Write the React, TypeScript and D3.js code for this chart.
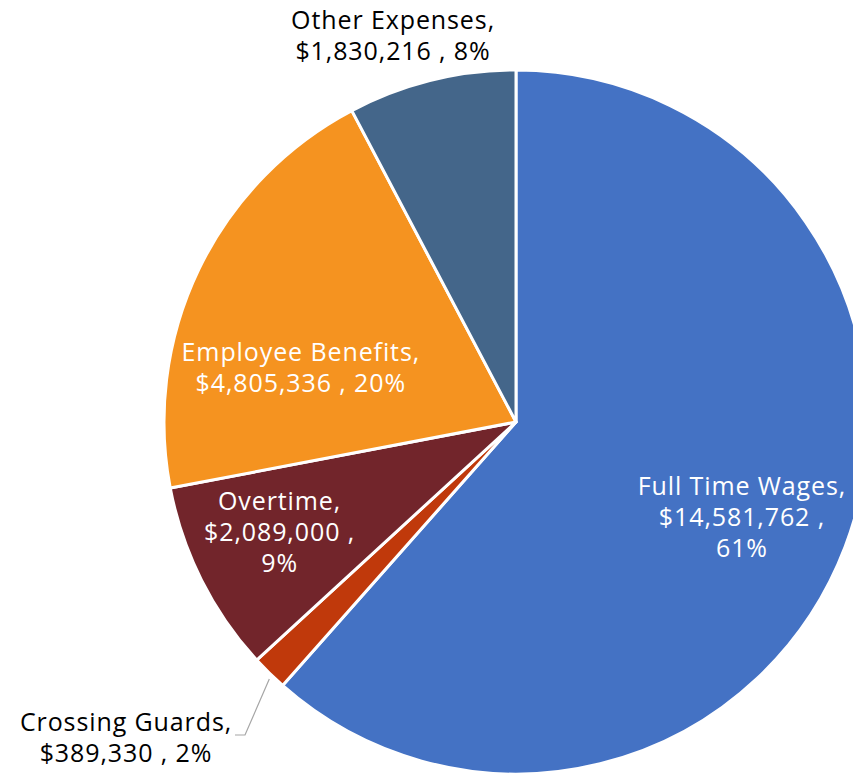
import React from "react";
import * as d3 from "d3";

const categories = ["Full Time Wages", "Crossing Guards", "Overtime", "Employee Benefits", "Other Expenses"];
const values = [14581762, 389330, 2089000, 4805336, 1830216];
const percentLabels = ["61%", "2%", "9%", "20%", "8%"];
const colors = ["#4472C4", "#C0390B", "#72252B", "#F59320", "#44668A"];

// label layout: lines split & offsets from centroid (layout only)
const labelLines = [
  (c: string, v: string, p: string) => [c + ",", v + " ,", p],
  (c: string, v: string, p: string) => [c + ",", v + " , " + p],
  (c: string, v: string, p: string) => [c + ",", v + " ,", p],
  (c: string, v: string, p: string) => [c + ",", v + " , " + p],
  (c: string, v: string, p: string) => [c + ",", v + " , " + p],
];
const labelOffsets: [number, number][] = [
  [12, 13],
  [0, 0],
  [-32, 6],
  [-9, 44],
  [-68, -165],
];
const labelColors = ["#fff", "#000", "#fff", "#fff", "#000"];

const W = 853;
const H = 774;
const cx = 516;
const cy = 422;
const R = 352;

export default function App() {
  const fmt = d3.format("$,");
  const pie = d3.pie<number>().sort(null).value((d) => d);
  const arcs = pie(values);
  const arc = d3.arc<d3.PieArcDatum<number>>().innerRadius(0).outerRadius(R);
  const lab = d3.arc<d3.PieArcDatum<number>>().innerRadius(R * 0.65).outerRadius(R * 0.65);
  const lineH = 31;
  const font = "'Open Sans', sans-serif";
  const fs = 25;
  const ls = 0.9;

  // Crossing Guards leader
  const cg = arcs[1];
  const cgMid = (cg.startAngle + cg.endAngle) / 2;
  const edge = [Math.sin(cgMid) * R, -Math.cos(cgMid) * R];

  return (
    <svg width={W} height={H} style={{ position: "absolute", left: 0, top: 0, background: "#fff" }}>
      <g transform={`translate(${cx},${cy})`}>
        {arcs.map((a, i) => (
          <path key={i} d={arc(a) || ""} fill={colors[i]} stroke="#fff" strokeWidth={3} strokeLinejoin="round" />
        ))}
        <polyline
          points={`${edge[0]},${edge[1] + 6} ${245 - cx},${735 - cy} ${235 - cx},${735 - cy}`}
          fill="none"
          stroke="#A6A6A6"
          strokeWidth={1.2}
        />
        {arcs.map((a, i) => {
          if (i === 1) return null;
          const [x, y] = lab.centroid(a);
          const lines = labelLines[i](categories[i], fmt(values[i]), percentLabels[i]);
          const px = x + labelOffsets[i][0];
          const py = y + labelOffsets[i][1] - ((lines.length - 1) * lineH) / 2;
          return (
            <text key={i} textAnchor="middle" fontFamily={font} fontSize={fs} letterSpacing={ls} fill={labelColors[i]}>
              {lines.map((l, j) => (
                <tspan key={j} x={px} y={py + j * lineH} dominantBaseline="central">
                  {l}
                </tspan>
              ))}
            </text>
          );
        })}
      </g>
      <text textAnchor="middle" fontFamily={font} fontSize={fs} letterSpacing={ls} fill="#000">
        {labelLines[1](categories[1], fmt(values[1]), percentLabels[1]).map((l, j) => (
          <tspan key={j} x={126} y={721 + j * lineH} dominantBaseline="central">
            {l}
          </tspan>
        ))}
      </text>
    </svg>
  );
}
